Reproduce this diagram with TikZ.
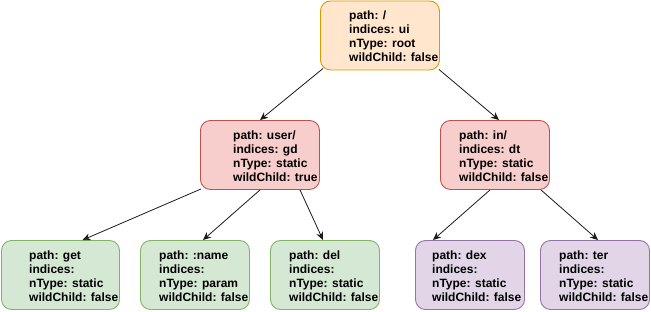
\documentclass[tikz,border=0pt]{standalone}
\usepackage{fontspec}
\setmainfont{Liberation Sans}
\usetikzlibrary{calc,arrows.meta}

\definecolor{rootfill}{HTML}{FFE6CC}
\definecolor{rootline}{HTML}{D79B00}
\definecolor{redfill}{HTML}{F8CECC}
\definecolor{redline}{HTML}{B85450}
\definecolor{greenfill}{HTML}{D5E8D4}
\definecolor{greenline}{HTML}{82B366}
\definecolor{purplefill}{HTML}{E1D5E7}
\definecolor{purpleline}{HTML}{9673A6}
\definecolor{edgecol}{HTML}{1A1A1A}

\tikzset{
  treebox/.style={draw, line width=0.9pt, rounded corners=10pt, minimum height=69pt, inner sep=0pt},
  rootbox/.style={treebox, fill=rootfill, draw=rootline, minimum width=119pt},
  redbox/.style={treebox, fill=redfill, draw=redline},
  greenbox/.style={treebox, fill=greenfill, draw=greenline},
  purplebox/.style={treebox, fill=purplefill, draw=purpleline},
  nodetext/.style={anchor=west, inner sep=0pt, align=left,
    font=\fontsize{12pt}{14pt}\selectfont\bfseries},
  link/.style={draw=edgecol, line width=0.8pt,
    -{Stealth[length=8pt,width=7pt,inset=2.5pt]}}
}

\begin{document}
\begin{tikzpicture}[x=1pt,y=1pt]
  \useasboundingbox (0,0) rectangle (651,312);

  % tree nodes
  \node[rootbox] (root) at (380,276.5) {};
  \node[redbox, minimum width=119pt] (user) at (260,157) {};
  \node[redbox, minimum width=109pt] (in) at (495,157) {};
  \node[greenbox, minimum width=118pt] (get) at (60.5,37) {};
  \node[greenbox, minimum width=109pt] (name) at (195,37) {};
  \node[greenbox, minimum width=109pt] (del) at (325,37) {};
  \node[purplebox, minimum width=109pt] (dex) at (470,37) {};
  \node[purplebox, minimum width=109pt] (ter) at (595,37) {};

  % node contents
  \node[nodetext] (rootT) at (349,276) {path: /\\indices: ui\\nType: root\\wildChild: false};
  \node[nodetext] (userT) at (233,156) {path: user/\\indices: gd\\nType: static\\wildChild: true};
  \node[nodetext] (inT) at (459,156) {path: in/\\indices: dt\\nType: static\\wildChild: false};
  \node[nodetext] (getT) at (29,36) {path: get\\indices:\\nType: static\\wildChild: false};
  \node[nodetext] (nameT) at (159,36) {path: :name\\indices:\\nType: param\\wildChild: false};
  \node[nodetext] (delT) at (289,36) {path: del\\indices:\\nType: static\\wildChild: false};
  \node[nodetext] (dexT) at (432,36) {path: dex\\indices:\\nType: static\\wildChild: false};
  \node[nodetext] (terT) at (559,36) {path: ter\\indices:\\nType: static\\wildChild: false};

  % connectors
  \draw[link] ($(root.south west)+(3,2)$) -- (user.north);
  \draw[link] ($(root.south east)+(-1,1)$) -- ($(in.north)+(4,0)$);
  \draw[link] ($(user.south west)+(1,1)$) -- ($(get.north)+(22,0)$);
  \draw[link] (user.south) -- ($(name.north)+(8,0)$);
  \draw[link] ($(user.south)+(40,0)$) -- ($(del.north)+(-2,0)$);
  \draw[link] ($(in.south)+(-5,0)$) -- ($(dex.north)+(-37,0)$);
  \draw[link] ($(in.south)+(46,0)$) -- ($(ter.north)+(3,0)$);
\end{tikzpicture}
\end{document}
